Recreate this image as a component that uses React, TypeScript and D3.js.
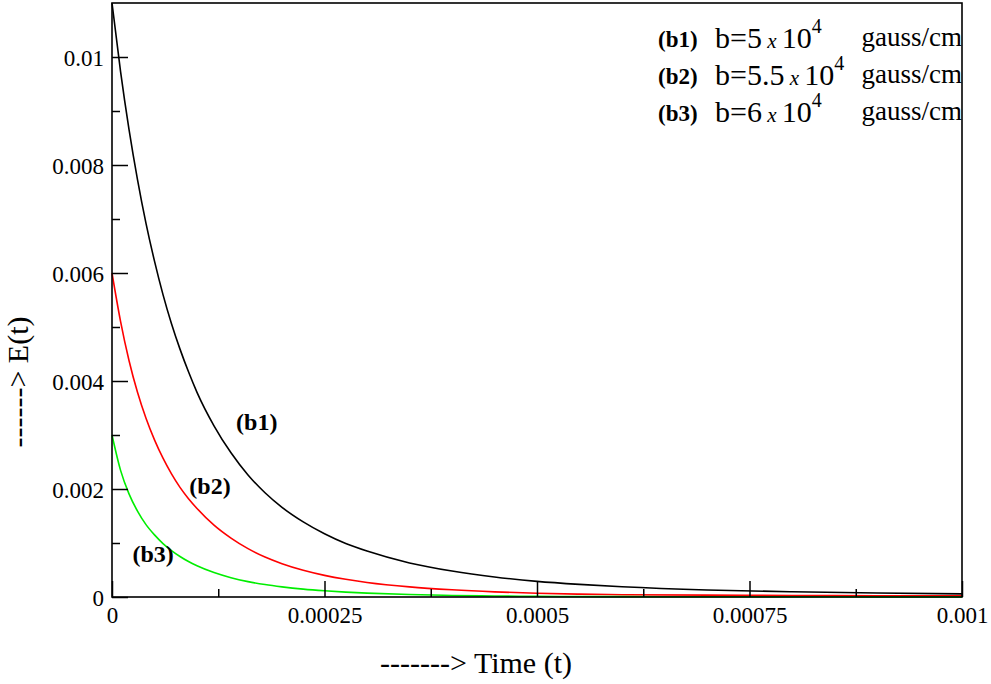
import { useEffect, useRef } from 'react';
import * as d3 from 'd3';

// time samples (s) shared by the three curves
const time = [
  0, 0.00001, 0.00002, 0.00003, 0.00004, 0.00005, 0.00006, 0.00007, 0.00008, 0.00009,
  0.0001, 0.00012, 0.00014, 0.00016, 0.00018, 0.0002, 0.000225, 0.00025, 0.000275, 0.0003,
  0.00035, 0.0004, 0.00045, 0.0005, 0.00055, 0.0006, 0.0007, 0.0008, 0.0009, 0.001,
];

// E(t)
const b1Values = [
  0.011, 0.00974, 0.00866, 0.00773, 0.00692, 0.00622, 0.0056, 0.00506, 0.00459, 0.00417,
  0.00379, 0.00317, 0.00267, 0.00226, 0.00193, 0.00166, 0.00139, 0.00117, 0.00099, 0.00085,
  0.00063, 0.00048, 0.00037, 0.00029, 0.000234, 0.00019, 0.00013, 0.000097, 0.000074, 0.000058,
];
const b2Values = [
  0.006, 0.00511, 0.00438, 0.00379, 0.00331, 0.00291, 0.00257, 0.00228, 0.00203, 0.00182,
  0.00164, 0.00133, 0.00109, 0.000895, 0.00074, 0.000617, 0.000495, 0.000401, 0.000328, 0.00027,
  0.000187, 0.000133, 0.0000955, 0.00007, 0.000053, 0.000043, 0.000034, 0.000028, 0.000024, 0.00002,
];
const b3Values = [
  0.003, 0.00235, 0.00191, 0.00159, 0.00134, 0.00115, 0.00099, 0.00086, 0.00075, 0.000656,
  0.000578, 0.000452, 0.000357, 0.000285, 0.00023, 0.000188, 0.000146, 0.000115, 0.000091, 0.000072,
  0.000045, 0.000029, 0.000019, 0.000013, 0.000009, 0.000007, 0.000005, 0.000004, 0.000003, 0.000003,
];

const seriesNames = ['(b1)', '(b2)', '(b3)'];
const seriesColors = ['#000000', '#ff0000', '#00ee00'];
const bValues = ['5', '5.5', '6'];

// curve tags placed in data space [t, E]
const tagT = [0.000146, 0.000091, 0.000024];
const tagE = [0.0031, 0.00191, 0.00064];

const xMajorTicks = [0, 0.00025, 0.0005, 0.00075, 0.001];
const xTickLabels = ['0', '0.00025', '0.0005', '0.00075', '0.001'];
const xMinorTicks = [0.000125, 0.000375, 0.000625, 0.000875];
const yMajorTicks = [0, 0.002, 0.004, 0.006, 0.008, 0.01];
const yTickLabels = ['0', '0.002', '0.004', '0.006', '0.008', '0.01'];
const yMinorTicks = [0.001, 0.003, 0.005, 0.007, 0.009];

const W = 991;
const H = 684;
const margin = { top: 3, right: 29, bottom: 87, left: 112 };
const FONT = '"Liberation Serif", "Times New Roman", serif';

export default function App() {
  const svgRef = useRef<SVGSVGElement>(null);

  useEffect(() => {
    if (!svgRef.current) return;
    const root = d3.select(svgRef.current);
    root.selectAll('*').remove();

    const iw = W - margin.left - margin.right;
    const ih = H - margin.top - margin.bottom;

    const x = d3.scaleLinear().domain([0, 0.001]).range([0, iw]);
    const y = d3.scaleLinear().domain([0, 0.011]).range([ih, 0]);

    const g = root.append('g').attr('transform', `translate(${margin.left},${margin.top})`);

    // curves
    const allSeries = [b1Values, b2Values, b3Values];
    const line = d3
      .line<number>()
      .x((_, i) => x(time[i]))
      .y((d) => y(d))
      .curve(d3.curveMonotoneX);

    allSeries.forEach((vals, k) => {
      g.append('path')
        .datum(vals)
        .attr('d', line)
        .style('fill', 'none')
        .style('stroke', seriesColors[k])
        .style('stroke-width', 1.6);
    });

    // axes, ticks inside
    const xMajor = d3
      .axisBottom(x)
      .tickValues(xMajorTicks)
      .tickSize(-16)
      .tickSizeOuter(0)
      .tickPadding(10)
      .tickFormat((_, i) => xTickLabels[i]);
    const xMinor = d3.axisBottom(x).tickValues(xMinorTicks).tickSize(-8).tickSizeOuter(0).tickFormat(() => '');
    const yMajor = d3
      .axisLeft(y)
      .tickValues(yMajorTicks)
      .tickSize(-16)
      .tickSizeOuter(0)
      .tickPadding(8)
      .tickFormat((_, i) => yTickLabels[i]);
    const yMinor = d3.axisLeft(y).tickValues(yMinorTicks).tickSize(-8).tickSizeOuter(0).tickFormat(() => '');

    const gx = g.append('g').attr('transform', `translate(0,${ih})`).call(xMajor);
    g.append('g').attr('transform', `translate(0,${ih})`).call(xMinor);
    const gy = g.append('g').call(yMajor);
    g.append('g').call(yMinor);

    g.selectAll('.domain').remove();
    g.selectAll('.tick line').style('stroke', '#000').style('stroke-width', 1.5);
    gx.selectAll('text')
      .style('font-family', FONT)
      .style('font-size', '23px')
      .style('fill', '#000')
      .attr('dy', '0.71em');
    gy.selectAll('text')
      .style('font-family', FONT)
      .style('font-size', '23px')
      .style('fill', '#000')
      .attr('dy', '0.35em');

    // frame
    g.append('rect')
      .attr('width', iw)
      .attr('height', ih)
      .style('fill', 'none')
      .style('stroke', '#000')
      .style('stroke-width', 1.6);

    // curve tags
    seriesNames.forEach((name, k) => {
      g.append('text')
        .attr('x', x(tagT[k]))
        .attr('y', y(tagE[k]))
        .text(name)
        .style('font-family', FONT)
        .style('font-weight', 'bold')
        .style('font-size', '24px');
    });

    // legend
    seriesNames.forEach((name, k) => {
      const by = 48 + k * 37;
      root.append('text')
        .attr('x', 658)
        .attr('y', by - 1)
        .text(name)
        .style('font-family', FONT)
        .style('font-weight', 'bold')
        .style('font-size', '23px');
      const t = root.append('text').attr('x', 715).attr('y', by).style('font-family', FONT);
      t.append('tspan').text(`b=${bValues[k]}`).style('font-size', '30px');
      t.append('tspan').text(' x ').style('font-size', '21px').style('font-style', 'italic');
      t.append('tspan').text('10').style('font-size', '30px');
      t.append('tspan').text('4').attr('dy', -15).style('font-size', '20px');
      root.append('text')
        .attr('x', 962)
        .attr('y', by - 2)
        .attr('text-anchor', 'end')
        .text('gauss/cm')
        .style('font-family', FONT)
        .style('font-size', '27px');
    });

    // axis titles
    root.append('text')
      .attr('x', 572)
      .attr('y', 673)
      .attr('text-anchor', 'end')
      .text('-------> Time (t)')
      .style('font-family', FONT)
      .style('font-size', '30px');
    root.append('text')
      .attr('transform', 'translate(28,382) rotate(-90)')
      .attr('text-anchor', 'middle')
      .text('------> E(t)')
      .style('font-family', FONT)
      .style('font-size', '30px');
  }, []);

  return (
    <svg
      ref={svgRef}
      width={W}
      height={H}
      style={{ position: 'absolute', left: 0, top: 0, background: '#fff' }}
    />
  );
}
